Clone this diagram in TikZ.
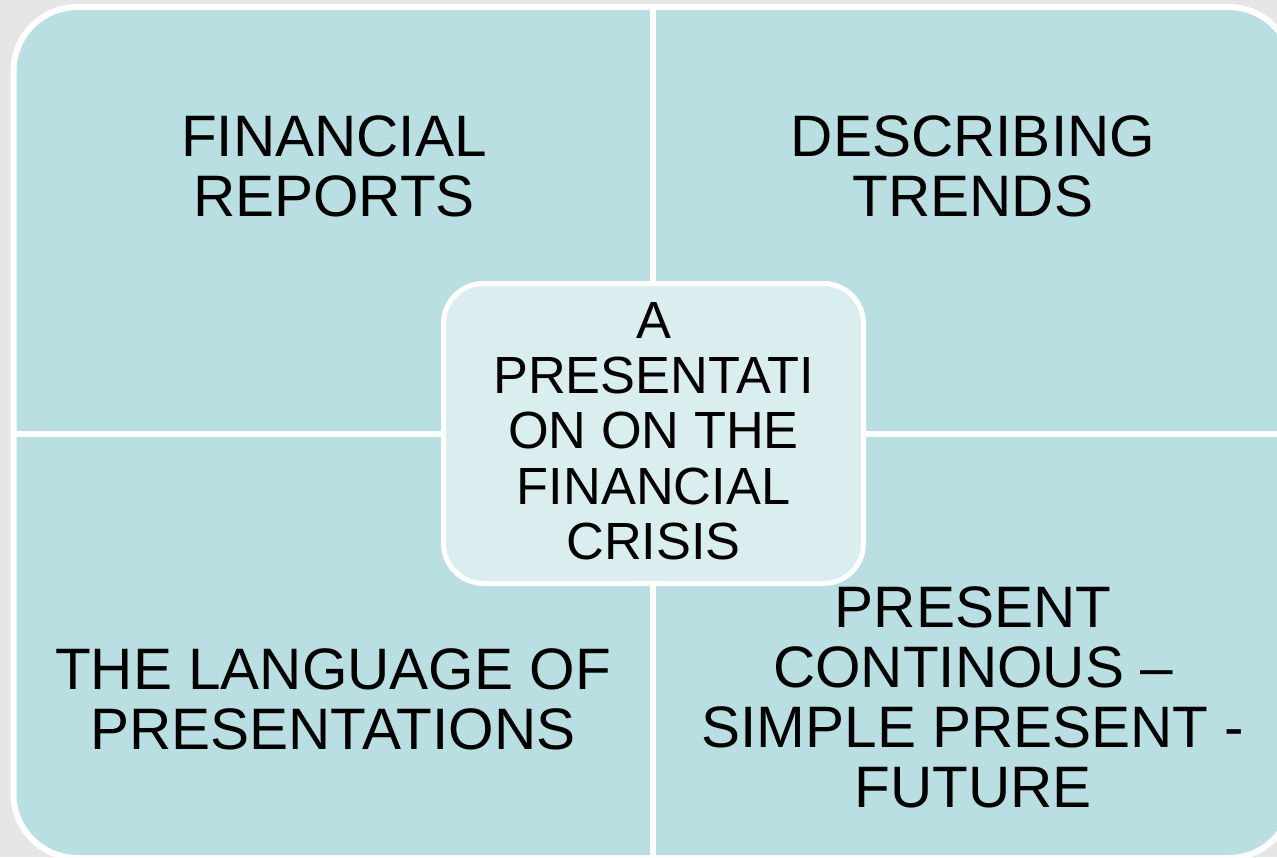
\documentclass[tikz,border=0pt]{standalone}
\usepackage{fontspec}
\setmainfont{Liberation Sans}
\usetikzlibrary {positioning}

\definecolor{bggray}{RGB}{230,230,230}
\definecolor{quadblue}{RGB}{186,223,227}
\definecolor{midblue}{RGB}{218,237,239}

\begin{document}
\begin{tikzpicture}[x=1pt,y=-1pt,
    quad/.style={fill=quadblue, draw=white, line width=6pt},
    divider/.style={draw=white, line width=6pt},
    hub/.style={fill=midblue, draw=white, line width=5pt, rounded corners=40pt}]
      \useasboundingbox (0,0) rectangle (1277,857);
      \clip (0,0) rectangle (1277,857);
      \fill[bggray] (0,0) rectangle (1277,857);
      % the four quadrants
      \path[quad, rounded corners=64pt] (13.5,7) rectangle (1292.5,858);
      \path[divider] (653,7) -- (653,858);
      \path[divider] (13.5,434) -- (1292.5,434);
      % centre box
      \path[hub] (443.5,283.5) rectangle (863.5,583.5);
      \begin{scope}[every node/.style={align=center, inner sep=0pt,
          font=\fontsize{58.5}{60}\selectfont}]
        \node (FR) at (334,166) {FINANCIAL\\REPORTS};
        \node (DT) at (973,166) {DESCRIBING\\TRENDS};
        \node (LP) at (333,699) {THE LANGUAGE OF\\PRESENTATIONS};
        \node (PC) at (973,697) {PRESENT\\CONTINOUS --\\SIMPLE PRESENT -\\FUTURE};
      \end{scope}
      \node (P) [align=center, inner sep=0pt, font=\fontsize{52.3}{55.3}\selectfont]
        at (653.5,431) {A\\PRESENTATI\\ON ON THE\\FINANCIAL\\CRISIS};
    \end{tikzpicture}
\end{document}
